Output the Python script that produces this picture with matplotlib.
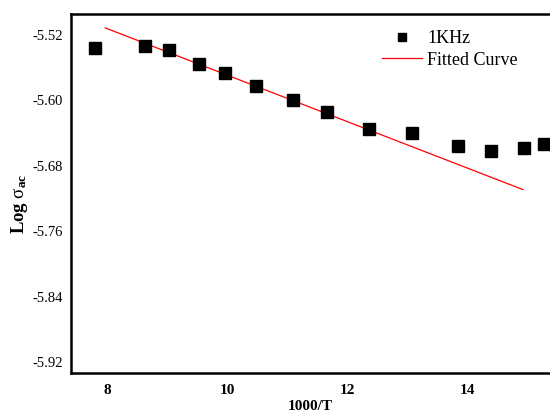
import matplotlib
matplotlib.use("Agg")
import matplotlib.pyplot as plt
import numpy as np

plt.rcParams['font.family'] = ['Liberation Serif', 'DejaVu Serif']
plt.rcParams['mathtext.fontset'] = 'custom'
plt.rcParams['mathtext.rm'] = 'Liberation Serif'
plt.rcParams['mathtext.it'] = 'Liberation Serif:italic'
plt.rcParams['mathtext.bf'] = 'Liberation Serif:bold'

# Data
inv_T = [7.8, 8.63, 9.03, 9.53, 9.97, 10.48, 11.1, 11.67, 12.37, 13.08, 13.85, 14.4, 14.95, 15.28]
log_sigma = [-5.536, -5.533, -5.539, -5.556, -5.567, -5.582, -5.600, -5.6145, -5.635, -5.640,
             -5.656, -5.662, -5.658, -5.653]
fit_range = [7.97, 14.93]
fit_intercept = -5.2853
fit_slope = -0.02838
xticks = [8, 10, 12, 14]
yticks = [-5.52, -5.60, -5.68, -5.76, -5.84, -5.92]

fig = plt.figure(figsize=(5.5, 4.13), dpi=100)
ax = fig.add_axes([71/550, 40/413, 1 - 71/550, 359/413])

ax.plot(inv_T, log_sigma, 's', color='black', markersize=8, label='1KHz', zorder=3)
xf = np.array(fit_range)
ax.plot(xf, fit_intercept + fit_slope * xf, '-', color='red', lw=0.9, label='Fitted Curve', zorder=2)

ax.set_xlim(7.4, 15.38)
ax.set_ylim(-5.933, -5.4945)
ax.set_xticks(xticks)
ax.set_yticks(yticks)
ax.set_xticklabels([str(t) for t in xticks], fontweight='bold', fontsize=11)
ax.set_yticklabels([f"{t:.2f}" for t in yticks], fontsize=10.5)
ax.tick_params(length=0, pad=6)
ax.tick_params(axis='x', pad=8)

for s in ['left', 'bottom', 'top']:
    ax.spines[s].set_linewidth(1.8)
ax.spines['right'].set_visible(False)

ax.set_xlabel('1000/T', fontweight='bold', fontsize=11, labelpad=2)
ax.set_ylabel(r'Log $\mathrm{\sigma}_{\mathbf{ac}}$', fontweight='bold', fontsize=13.5)
ax.yaxis.set_label_coords(-0.085, 0.47)

leg = ax.legend(loc='upper left', bbox_to_anchor=(0.615, 1.0), frameon=False, fontsize=13,
                handlelength=2.2, handletextpad=0.3, labelspacing=0.25, markerscale=0.8)

fig.savefig('out.png', dpi=100)
